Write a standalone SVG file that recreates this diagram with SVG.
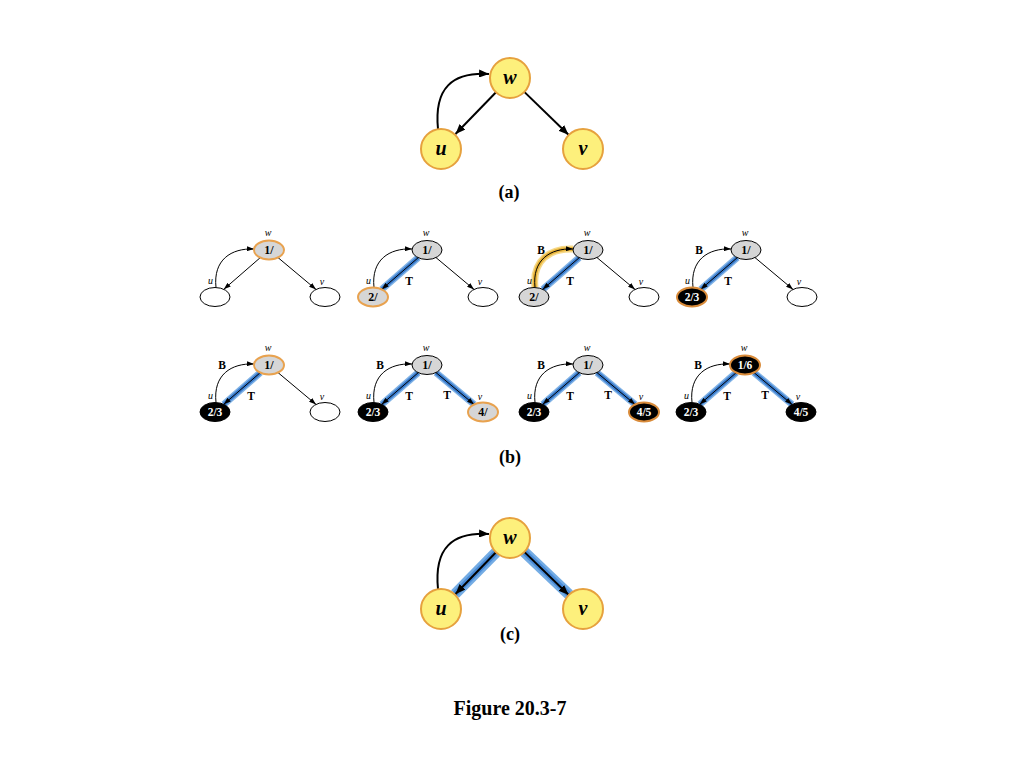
<svg xmlns="http://www.w3.org/2000/svg" width="1024" height="768" viewBox="0 0 1024 768">
<defs>
<style>
.bg{fill:#fff}
.big{fill:#fdf07c;stroke:#e6a13e;stroke-width:2}
.bigt{font-family:"Liberation Serif",serif;font-weight:bold;font-style:italic;font-size:20px;text-anchor:middle;fill:#000}
.cap{font-family:"Liberation Serif",serif;font-weight:bold;font-size:18px;text-anchor:middle;fill:#000}
.fig{font-family:"Liberation Serif",serif;font-weight:bold;font-size:20px;text-anchor:middle;fill:#000}
.e{fill:none;stroke:#000;stroke-width:2}
.es{fill:none;stroke:#000;stroke-width:1}
.blue1{fill:none;stroke:#7fb2e6;stroke-width:7}
.blue2{fill:none;stroke:#3b7ccd;stroke-width:4}
.bblue1{fill:none;stroke:#74ace4;stroke-width:11}
.bblue2{fill:none;stroke:#4a8cd8;stroke-width:6}
.glow1{fill:none;stroke:#f6d98a;stroke-width:7}
.glow2{fill:none;stroke:#e9b53a;stroke-width:4}
.wh{fill:#fff;stroke:#000;stroke-width:1}
.gr{fill:#d6d6d6;stroke:#000;stroke-width:1}
.gro{fill:#d6d6d6;stroke:#e8a24f;stroke-width:2}
.bk{fill:#000;stroke:#000;stroke-width:1}
.bko{fill:#000;stroke:#d98b3a;stroke-width:2}
.nt{font-family:"Liberation Serif",serif;font-weight:bold;font-size:12px;text-anchor:middle;fill:#000}
.ntw{font-family:"Liberation Serif",serif;font-weight:bold;font-size:11.5px;text-anchor:middle;fill:#fff}
.lb{font-family:"Liberation Serif",serif;font-style:italic;font-size:10px;text-anchor:middle;fill:#000}
.el{font-family:"Liberation Serif",serif;font-weight:bold;font-size:11.5px;text-anchor:middle;fill:#000}
</style>
<marker id="ah" viewBox="0 0 10 8" refX="10" refY="4" markerWidth="10" markerHeight="8" orient="auto" markerUnits="userSpaceOnUse"><path d="M0,0 L10,4 L0,8 z" fill="#000"/></marker>
<marker id="as" viewBox="0 0 7 5" refX="7" refY="2.5" markerWidth="7" markerHeight="5" orient="auto" markerUnits="userSpaceOnUse"><path d="M0,0 L7,2.5 L0,5 z" fill="#000"/></marker>
</defs>
<rect class="bg" x="0" y="0" width="1024" height="768"/>

<!-- (a) -->
<g id="part-a">
<g id="a-edges">
<path class="e" d="M496,92.3 L455.5,134" marker-end="url(#ah)"/>
<path class="e" d="M524.3,91.9 L568.5,134.8" marker-end="url(#ah)"/>
<path class="e" d="M438,129 C434,88 452,72 489,74" marker-end="url(#ah)"/>
</g>
<g id="a-w"><circle class="big" cx="510" cy="78" r="20"/><text class="bigt" x="510" y="84">w</text></g>
<g id="a-u"><circle class="big" cx="441" cy="149" r="20"/><text class="bigt" x="441" y="155">u</text></g>
<g id="a-v"><circle class="big" cx="583" cy="149" r="20"/><text class="bigt" x="583" y="155">v</text></g>
<text class="cap" x="509" y="198">(a)</text>
</g>

<!-- Panel 1 -->
<g id="b1" transform="translate(269,250)">
<g id="b1-edges">
<path class="es" d="M-8.8,7.7 L-45.2,39.3" marker-end="url(#as)"/>
<path class="es" d="M9,7.6 L47,39.4" marker-end="url(#as)"/>
<path class="es" d="M-53,37.5 C-56,10 -38,-2 -15,-1" marker-end="url(#as)"/>
</g>
<g id="b1-w"><ellipse class="gro" cx="0" cy="0" rx="15" ry="9.5"/><text class="nt" x="0" y="4">1/</text><text class="lb" x="-1" y="-14">w</text></g>
<g id="b1-u"><ellipse class="wh" cx="-54" cy="47" rx="15" ry="9.5"/><text class="lb" x="-58.5" y="34">u</text></g>
<g id="b1-v"><ellipse class="wh" cx="56" cy="47" rx="15" ry="9.5"/><text class="lb" x="53" y="35">v</text></g>
</g>

<!-- Panel 2 -->
<g id="b2" transform="translate(427,250)">
<g id="b2-edges">
<path class="blue1" d="M-8.8,7.7 L-45.2,39.3"/>
<path class="blue2" d="M-8.8,7.7 L-45.2,39.3"/>
<path class="es" d="M-8.8,7.7 L-45.2,39.3" marker-end="url(#as)"/>
<path class="es" d="M9,7.6 L47,39.4" marker-end="url(#as)"/>
<path class="es" d="M-53,37.5 C-56,10 -38,-2 -15,-1" marker-end="url(#as)"/>
<text class="el" x="-18" y="35">T</text>
</g>
<g id="b2-w"><ellipse class="gr" cx="0" cy="0" rx="15" ry="9.5"/><text class="nt" x="0" y="4">1/</text><text class="lb" x="-1" y="-14">w</text></g>
<g id="b2-u"><ellipse class="gro" cx="-54" cy="47" rx="15" ry="9.5"/><text class="nt" x="-54" y="51">2/</text><text class="lb" x="-58.5" y="34">u</text></g>
<g id="b2-v"><ellipse class="wh" cx="56" cy="47" rx="15" ry="9.5"/><text class="lb" x="53" y="35">v</text></g>
</g>

<!-- Panel 3 -->
<g id="b3" transform="translate(588,250)">
<g id="b3-edges">
<path class="glow1" d="M-53,37.5 C-56,10 -38,-2 -15,-1"/>
<path class="glow2" d="M-53,37.5 C-56,10 -38,-2 -15,-1"/>
<path class="blue1" d="M-8.8,7.7 L-45.2,39.3"/>
<path class="blue2" d="M-8.8,7.7 L-45.2,39.3"/>
<path class="es" d="M-8.8,7.7 L-45.2,39.3" marker-end="url(#as)"/>
<path class="es" d="M9,7.6 L47,39.4" marker-end="url(#as)"/>
<path class="es" d="M-53,37.5 C-56,10 -38,-2 -15,-1" marker-end="url(#as)"/>
<text class="el" x="-47" y="4">B</text>
<text class="el" x="-18" y="35">T</text>
</g>
<g id="b3-w"><ellipse class="gr" cx="0" cy="0" rx="15" ry="9.5"/><text class="nt" x="0" y="4">1/</text><text class="lb" x="-1" y="-14">w</text></g>
<g id="b3-u"><ellipse class="gr" cx="-54" cy="47" rx="15" ry="9.5"/><text class="nt" x="-54" y="51">2/</text><text class="lb" x="-58.5" y="34">u</text></g>
<g id="b3-v"><ellipse class="wh" cx="56" cy="47" rx="15" ry="9.5"/><text class="lb" x="53" y="35">v</text></g>
</g>

<!-- Panel 4 -->
<g id="b4" transform="translate(746,250)">
<g id="b4-edges">
<path class="blue1" d="M-8.8,7.7 L-45.2,39.3"/>
<path class="blue2" d="M-8.8,7.7 L-45.2,39.3"/>
<path class="es" d="M-8.8,7.7 L-45.2,39.3" marker-end="url(#as)"/>
<path class="es" d="M9,7.6 L47,39.4" marker-end="url(#as)"/>
<path class="es" d="M-53,37.5 C-56,10 -38,-2 -15,-1" marker-end="url(#as)"/>
<text class="el" x="-47" y="4">B</text>
<text class="el" x="-18" y="35">T</text>
</g>
<g id="b4-w"><ellipse class="gr" cx="0" cy="0" rx="15" ry="9.5"/><text class="nt" x="0" y="4">1/</text><text class="lb" x="-1" y="-14">w</text></g>
<g id="b4-u"><ellipse class="bko" cx="-54" cy="47" rx="15" ry="9.5"/><text class="ntw" x="-54" y="51">2/3</text><text class="lb" x="-58.5" y="34">u</text></g>
<g id="b4-v"><ellipse class="wh" cx="56" cy="47" rx="15" ry="9.5"/><text class="lb" x="53" y="35">v</text></g>
</g>

<!-- Panel 5 -->
<g id="b5" transform="translate(269,365)">
<g id="b5-edges">
<path class="blue1" d="M-8.8,7.7 L-45.2,39.3"/>
<path class="blue2" d="M-8.8,7.7 L-45.2,39.3"/>
<path class="es" d="M-8.8,7.7 L-45.2,39.3" marker-end="url(#as)"/>
<path class="es" d="M9,7.6 L47,39.4" marker-end="url(#as)"/>
<path class="es" d="M-53,37.5 C-56,10 -38,-2 -15,-1" marker-end="url(#as)"/>
<text class="el" x="-47" y="4">B</text>
<text class="el" x="-18" y="35">T</text>
</g>
<g id="b5-w"><ellipse class="gro" cx="0" cy="0" rx="15" ry="9.5"/><text class="nt" x="0" y="4">1/</text><text class="lb" x="-1" y="-14">w</text></g>
<g id="b5-u"><ellipse class="bk" cx="-54" cy="47" rx="15" ry="9.5"/><text class="ntw" x="-54" y="51">2/3</text><text class="lb" x="-58.5" y="34">u</text></g>
<g id="b5-v"><ellipse class="wh" cx="56" cy="47" rx="15" ry="9.5"/><text class="lb" x="53" y="35">v</text></g>
</g>

<!-- Panel 6 -->
<g id="b6" transform="translate(427,365)">
<g id="b6-edges">
<path class="blue1" d="M-8.8,7.7 L-45.2,39.3"/>
<path class="blue2" d="M-8.8,7.7 L-45.2,39.3"/>
<path class="blue1" d="M9,7.6 L47,39.4"/>
<path class="blue2" d="M9,7.6 L47,39.4"/>
<path class="es" d="M-8.8,7.7 L-45.2,39.3" marker-end="url(#as)"/>
<path class="es" d="M9,7.6 L47,39.4" marker-end="url(#as)"/>
<path class="es" d="M-53,37.5 C-56,10 -38,-2 -15,-1" marker-end="url(#as)"/>
<text class="el" x="-47" y="4">B</text>
<text class="el" x="-18" y="35">T</text>
<text class="el" x="20" y="34">T</text>
</g>
<g id="b6-w"><ellipse class="gr" cx="0" cy="0" rx="15" ry="9.5"/><text class="nt" x="0" y="4">1/</text><text class="lb" x="-1" y="-14">w</text></g>
<g id="b6-u"><ellipse class="bk" cx="-54" cy="47" rx="15" ry="9.5"/><text class="ntw" x="-54" y="51">2/3</text><text class="lb" x="-58.5" y="34">u</text></g>
<g id="b6-v"><ellipse class="gro" cx="56" cy="47" rx="15" ry="9.5"/><text class="nt" x="56" y="51">4/</text><text class="lb" x="53" y="35">v</text></g>
</g>

<!-- Panel 7 -->
<g id="b7" transform="translate(588,365)">
<g id="b7-edges">
<path class="blue1" d="M-8.8,7.7 L-45.2,39.3"/>
<path class="blue2" d="M-8.8,7.7 L-45.2,39.3"/>
<path class="blue1" d="M9,7.6 L47,39.4"/>
<path class="blue2" d="M9,7.6 L47,39.4"/>
<path class="es" d="M-8.8,7.7 L-45.2,39.3" marker-end="url(#as)"/>
<path class="es" d="M9,7.6 L47,39.4" marker-end="url(#as)"/>
<path class="es" d="M-53,37.5 C-56,10 -38,-2 -15,-1" marker-end="url(#as)"/>
<text class="el" x="-47" y="4">B</text>
<text class="el" x="-18" y="35">T</text>
<text class="el" x="20" y="34">T</text>
</g>
<g id="b7-w"><ellipse class="gr" cx="0" cy="0" rx="15" ry="9.5"/><text class="nt" x="0" y="4">1/</text><text class="lb" x="-1" y="-14">w</text></g>
<g id="b7-u"><ellipse class="bk" cx="-54" cy="47" rx="15" ry="9.5"/><text class="ntw" x="-54" y="51">2/3</text><text class="lb" x="-58.5" y="34">u</text></g>
<g id="b7-v"><ellipse class="bko" cx="56" cy="47" rx="15" ry="9.5"/><text class="ntw" x="56" y="51">4/5</text><text class="lb" x="53" y="35">v</text></g>
</g>

<!-- Panel 8 -->
<g id="b8" transform="translate(745,365)">
<g id="b8-edges">
<path class="blue1" d="M-8.8,7.7 L-45.2,39.3"/>
<path class="blue2" d="M-8.8,7.7 L-45.2,39.3"/>
<path class="blue1" d="M9,7.6 L47,39.4"/>
<path class="blue2" d="M9,7.6 L47,39.4"/>
<path class="es" d="M-8.8,7.7 L-45.2,39.3" marker-end="url(#as)"/>
<path class="es" d="M9,7.6 L47,39.4" marker-end="url(#as)"/>
<path class="es" d="M-53,37.5 C-56,10 -38,-2 -15,-1" marker-end="url(#as)"/>
<text class="el" x="-47" y="4">B</text>
<text class="el" x="-18" y="35">T</text>
<text class="el" x="20" y="34">T</text>
</g>
<g id="b8-w"><ellipse class="bko" cx="0" cy="0" rx="15" ry="9.5"/><text class="ntw" x="0" y="4">1/6</text><text class="lb" x="-1" y="-14">w</text></g>
<g id="b8-u"><ellipse class="bk" cx="-54" cy="47" rx="15" ry="9.5"/><text class="ntw" x="-54" y="51">2/3</text><text class="lb" x="-58.5" y="34">u</text></g>
<g id="b8-v"><ellipse class="bk" cx="56" cy="47" rx="15" ry="9.5"/><text class="ntw" x="56" y="51">4/5</text><text class="lb" x="53" y="35">v</text></g>
</g>

<text class="cap" x="510" y="463">(b)</text>

<!-- (c) -->
<g id="part-c">
<g id="c-edges">
<path class="bblue1" d="M496,552.3 L455,594"/>
<path class="bblue2" d="M496,552.3 L455,594"/>
<path class="bblue1" d="M524.3,551.9 L569,594.5"/>
<path class="bblue2" d="M524.3,551.9 L569,594.5"/>
<path class="e" d="M496,552.3 L455.5,594" marker-end="url(#ah)"/>
<path class="e" d="M524.3,551.9 L568.5,594.8" marker-end="url(#ah)"/>
<path class="e" d="M438,589 C434,548 452,532 489,534" marker-end="url(#ah)"/>
</g>
<g id="c-w"><circle class="big" cx="510" cy="538" r="20"/><text class="bigt" x="510" y="544">w</text></g>
<g id="c-u"><circle class="big" cx="441" cy="609" r="20"/><text class="bigt" x="441" y="615">u</text></g>
<g id="c-v"><circle class="big" cx="583" cy="609" r="20"/><text class="bigt" x="583" y="615">v</text></g>
<text class="cap" x="510" y="640">(c)</text>
</g>

<text class="fig" x="510" y="715">Figure 20.3-7</text>
</svg>
